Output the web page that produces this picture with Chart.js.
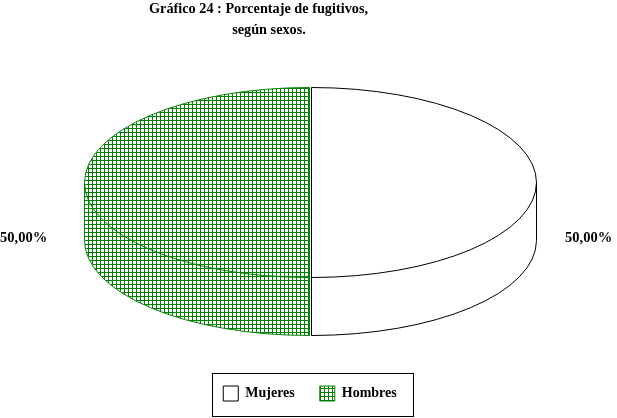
<!DOCTYPE html>
<html><head><meta charset="utf-8">
<style>html,body{margin:0;padding:0;background:#fff}canvas{display:block}</style>
<script src="https://cdn.jsdelivr.net/npm/chart.js@4"></script></head>
<body><canvas id="c" width="617" height="418"></canvas>
<script>
const categories = ['Mujeres', 'Hombres'];
const values = [50, 50];
const titleLine = 'Gráfico 24 : Porcentaje de fugitivos,';
const subtitleLine = 'según sexos.';
const edgeColors = ['#000000', '#008000'];

const FONT = '"Liberation Serif", serif';
const RX = 225, RY = 95, DEPTH = 58, CY = 182.5;

const tile = document.createElement('canvas');
tile.width = tile.height = 4;
const t = tile.getContext('2d');
t.fillStyle = '#fff'; t.fillRect(0, 0, 4, 4);
t.fillStyle = '#008000'; t.fillRect(0, 0, 4, 1); t.fillRect(0, 0, 1, 4);
const hatch = t.createPattern(tile, 'repeat');
const fills = ['#ffffff', hatch];

function applyFace(ctx, arc, dy) {
  ctx.setTransform(1, 0, 0, RY / RX, 0, CY + dy - arc.y * RY / RX);
  hatch.setTransform(ctx.getTransform().inverse());
}

const pie3d = {
  id: 'pie3d',
  afterLayout(chart) {
    const tb = chart.titleBlock;
    tb.left = 0; tb.right = 517; tb.top = -1;
    const sub = chart.boxes.find(b => b.options && b.options.text === subtitleLine);
    sub.left = 0; sub.right = 538; sub.top = 20;
    chart.legend.top -= 7; chart.legend.bottom -= 7;
  },
  beforeDatasetDraw(chart) {
    const ctx = chart.ctx, arcs = chart.getDatasetMeta(0).data;
    ctx.save();
    for (let dy = DEPTH; dy > 0; dy--) {
      arcs.forEach(a => { applyFace(ctx, a, dy); a.draw(ctx); });
    }
    applyFace(ctx, arcs[0], 0);
  },
  afterDatasetDraw(chart) {
    const ctx = chart.ctx, arcs = chart.getDatasetMeta(0).data;
    ctx.restore();
    hatch.setTransform(new DOMMatrix());
    ctx.save();
    ctx.lineWidth = 1;
    [1, 0].forEach(i => {
      const a = arcs[i], dir = i === 0 ? 1 : -1;
      const x = a.x + (i === 0 ? 1.5 : -0.5);
      ctx.strokeStyle = edgeColors[i];
      ctx.beginPath();
      ctx.ellipse(x, CY, RX, RY, 0, a.startAngle, a.endAngle);
      ctx.stroke();
      ctx.beginPath();
      ctx.ellipse(x, CY + DEPTH, RX, RY, 0, Math.max(a.startAngle, 0), Math.min(a.endAngle, Math.PI));
      ctx.stroke();
      const side = x + dir * RX;
      ctx.beginPath();
      ctx.moveTo(side, CY); ctx.lineTo(side, CY + DEPTH);
      ctx.moveTo(x, CY - RY); ctx.lineTo(x, CY + RY + DEPTH);
      ctx.stroke();
    });
    ctx.fillStyle = '#000';
    ctx.font = 'bold 14.5px ' + FONT;
    ctx.textBaseline = 'middle';
    const txt = v => v.toFixed(2).replace('.', ',') + '%';
    ctx.textAlign = 'left';
    ctx.fillText(txt(values[0]), 565, 238);
    ctx.fillText(txt(values[1]), 0, 238);
    ctx.restore();
  },
  afterDraw(chart) {
    const ctx = chart.ctx;
    ctx.save();
    ctx.strokeStyle = '#000'; ctx.lineWidth = 1;
    ctx.strokeRect(212.5, 373.5, 201, 43);
    ctx.restore();
  }
};

const titleFont = { family: FONT, size: 14.25, weight: 'bold', lineHeight: 1.47 };

new Chart(document.getElementById('c'), {
  type: 'pie',
  data: { labels: categories, datasets: [{ data: values, backgroundColor: fills, borderWidth: 0, clip: false }] },
  plugins: [pie3d],
  options: {
    responsive: false, animation: false, devicePixelRatio: 1, events: [],
    radius: RX,
    layout: { padding: { left: 3, right: 0, top: 0, bottom: 0 } },
    plugins: {
      tooltip: { enabled: false },
      title: { display: true, text: titleLine, color: '#000', font: titleFont, padding: { top: 0, bottom: 0 } },
      subtitle: { display: true, text: subtitleLine, color: '#000', font: titleFont, padding: { top: 0, bottom: 0 } },
      legend: {
        position: 'bottom',
        labels: {
          color: '#000', boxWidth: 15, boxHeight: 15, padding: 25,
          font: { family: FONT, size: 14, weight: 'bold' },
          generateLabels: () => categories.map((c, i) => ({
            text: c, fillStyle: fills[i], strokeStyle: edgeColors[i], lineWidth: 1, index: i, hidden: false
          }))
        }
      }
    }
  }
});
</script></body></html>
